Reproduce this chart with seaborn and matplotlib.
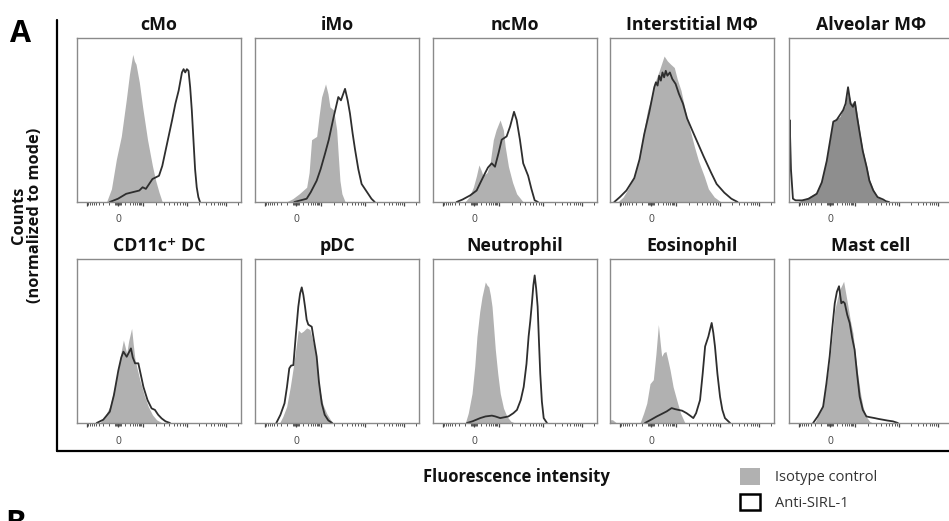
import numpy as np
import pandas as pd
import matplotlib
matplotlib.use("Agg")
import matplotlib.pyplot as plt
import seaborn as sns
from matplotlib.patches import Patch
from matplotlib.lines import Line2D

# ---------------- data (x: position across panel 0-100, y: % of panel height) ----
titles = ["cMo", "iMo", "ncMo", "Interstitial MΦ", "Alveolar MΦ",
          "CD11c⁺ DC", "pDC", "Neutrophil", "Eosinophil", "Mast cell"]

cmo_iso = [(18,0),(21,8),(24,26),(27,40),(30,62),(32,78),(34,90),(35,86),(36,84),(38,73),
           (40,58),(43,38),(46,22),(48,13),(50,6),(52,0)]
cmo_anti = [(20,0),(25,2),(30,5),(34,6),(38,7),(40,9),(42,8),(44,11),(46,14),(48,15),(50,16),
            (52,22),(55,36),(58,50),(60,60),(62,68),(64,79),(65,81),(66,79),(67,81),(68,80),
            (69,70),(70,56),(71,38),(72,20),(73,9),(74,3),(75,0)]

imo_iso = [(19,0),(23,2),(27,5),(31.5,9),(33,18),(34.5,38),(37.6,40),(39,52),(40.6,64),(43,72),
           (44.5,66),(45.7,58),(48,56),(49.8,44),(50.8,28),(51.8,13),(53,5),(55,0)]
imo_anti = [(24,0),(31.5,2),(34,6),(37.6,13),(40,20),(42.7,29.5),(45,38),(46.7,46),(48,52),
            (50.8,64),(52.4,62),(54.9,69),(56.5,62),(57.9,54),(59.5,42),(61,32),(63,20),(65,11),
            (69,5),(71,2),(73,0)]

ncmo_iso = [(19.5,0),(22,3),(24.6,9),(26.5,16),(28,22.6),(29.5,19),(30.5,16),(33,18),(34.8,23.6),
            (36.8,38),(38.5,44),(40.9,50),(42.9,44),(44,34),(46,21.6),(48.5,12),(51,5),(55,0)]
ncmo_anti = [(14.4,0),(18,1.5),(22.6,4),(26.6,7),(29,12),(31.7,17.5),(33.5,21),(35.8,23.6),
             (37.8,21.5),(40,30),(41.9,38),(44.9,40),(47,46),(49.4,55),(51,50),(53,38),(55,23.6),
             (58,16),(60,8),(62,1),(64,0)]

imac_iso = [(4.7,0),(8,3),(11,8),(14.8,15.6),(18,28),(20,40),(22.9,56),(25,63),(27,72),(30,80),
            (33,89),(35,86),(37,84),(39.2,82),(41,75),(43.3,68),(45,60),(47.3,50),(51.4,34),
            (54,25),(57.5,15.6),(60,8),(63.6,3),(67.7,0)]
imac_anti = [(2.6,0),(6,3),(10,7),(14.8,14.6),(18,26),(20.9,41.5),(24,55),(27,70),(28,73),(29,71),
             (30,77),(31,74),(32,79),(33,76),(34,80),(35,77),(36.5,79),(38,75),(40,72),(42,66),
             (44.5,60),(47,51),(50,44),(53.5,36),(57,28),(61.6,18),(65,11),(69.7,5.7),(74,2),
             (77.8,0)]

amac_iso = [(5,0),(10,2),(16.9,6),(20,13),(23,26),(25,38),(27,50),(29,51),(31,52),(33,57),(34,58),
            (36,68),(38,60),(40.2,62),(41.5,54),(43.3,42),(45,32),(47.4,22),(49,14),(51.4,7.7),
            (54,3),(57.5,1),(59,0)]
amac_anti = [(0,0),(0.4,50),(1.2,20),(2.4,2),(4,1),(8,1),(12,2),(16.9,5),(20,12),(23,25),(25,37),
             (27,49),(29,50),(31,53),(33,56),(34.5,60),(36,70),(37.5,60),(39,58),(40.2,61),
             (41.5,52),(43.3,41),(45,31),(47.4,21),(49,13),(51.4,7),(54,3),(57.5,1.5),(59,0.5),
             (61,0)]

dc_iso = [(14,0),(17,4),(20,10),(22.5,20),(25.2,32),(27,44),(28.3,50.6),(30.3,42.5),(31.5,50),
          (33.3,57.7),(34.3,48),(35.4,38.4),(38.4,26),(41,17),(43.5,10),(46,5),(48.5,2),(52,0)]
dc_anti = [(12,0),(16,2),(20,6.9),(22.5,17),(25.2,32),(27,40),(28.3,43.5),(30.3,40.4),(32.9,45.5),
           (34,40),(35.4,36.4),(37.4,36.4),(39,29),(40.5,22),(43,14),(45.5,8.9),(47.5,8),(49.5,5),
           (51.6,2.8),(54,1),(56.7,0)]

pdc_iso = [(15,0),(17,4),(19.3,10),(21.5,22),(23.4,34.3),(25,46),(26.4,56.7),(28,55),(29.5,56),
           (31.5,58),(33.5,57),(35,51),(36.6,44.5),(38,32),(39.6,20),(41.5,11),(43.7,5.9),(46,2),
           (47.8,0)]
pdc_anti = [(13,0),(15.5,5),(18,12),(19.5,22),(20.9,33.3),(22,35),(23.4,35.3),(25,55),(26.4,70.9),
            (27.5,79),(28.5,82.7),(29.5,78),(30.5,70.9),(31.5,63),(32.5,60),(34.6,58.7),(36,50),
            (37.6,40.5),(39,25),(40.7,12),(42.5,5),(44.7,1.6),(47,0)]

neu_iso = [(19.7,0),(21.5,6),(23.8,18),(25.5,35),(26.8,52.8),(28.5,68),(29.9,77),(31.9,86),(33,84),
           (34,83),(35,78),(36,71),(37,58),(38,44.7),(39.5,30),(41,18),(43,9),(45.1,4),(47.5,1),
           (50,0)]
neu_anti = [(20.7,0),(24,1),(28.8,3),(32,4),(35.9,4.5),(38,4),(41,3),(43.5,3.5),(46,4),(49,6),
            (51.2,8),(53.5,14),(55.3,22),(57,36),(58.3,52.8),(59.3,62),(60.3,73),(61.2,84),(62,90),
            (62.9,82),(63.8,71),(64.6,50),(65.4,30),(66.4,13),(67.5,3),(69.5,0)]

eos_iso = [(0,2),(1.5,2),(4,0),(18.3,0),(20.5,6),(22.4,12),(24.4,24),(26.4,26.4),(28,42),(29.5,60),
           (30.5,50),(31.5,40.6),(32.8,43),(34.1,43.6),(35.4,38),(36.6,32.5),(38.5,22),(40.7,14),
           (43,6),(45.7,0)]
eos_anti = [(21.3,0),(25,2),(28.5,4),(31.5,5.5),(34.6,7.1),(37.6,9.1),(39.5,8.5),(41.7,8),(44,7.5),
            (46.7,6),(48.8,4.5),(50.8,3),(52.5,6),(54.9,14),(56.5,30),(58,46.7),(60,52.8),(61,57),
            (62,61),(63,55),(64,46.7),(65.5,30),(67.1,16),(68.5,8),(70.1,3),(73.2,0)]

mast_iso = [(15.7,0),(18,5),(20.8,12),(22.8,24),(24.8,38.6),(26.4,54),(27.9,69),(29.5,76),
            (30.9,81.4),(32.2,84),(33.3,86.4),(34.6,79),(36,71),(37.5,62),(39,54.8),(40.5,41),
            (42.1,28.5),(43.6,18),(45.1,10),(47,4),(49.2,1),(51,0)]
mast_anti = [(14.7,0),(17.5,4),(20.8,10),(22.8,24),(24.8,40.6),(26.4,58),(27.9,73),(29.2,80),
             (30.5,83.4),(31.2,78),(31.9,73),(33,74),(34,73),(35.5,66),(37,61),(38.5,52),(40,44.7),
             (41.5,30),(43.1,16),(45,8),(47.2,4),(49.5,3.5),(52.2,3),(54.5,2.5),(57.3,2),(60,1.5),
             (63.4,1),(66.4,0)]

iso_curves = [cmo_iso, imo_iso, ncmo_iso, imac_iso, amac_iso,
              dc_iso, pdc_iso, neu_iso, eos_iso, mast_iso]
anti_curves = [cmo_anti, imo_anti, ncmo_anti, imac_anti, amac_anti,
               dc_anti, pdc_anti, neu_anti, eos_anti, mast_anti]

series_names = ["Isotype control", "Anti-SIRL-1"]

# ---------------- tidy table ----------------
rows = []
for t, iso, anti in zip(titles, iso_curves, anti_curves):
    for s, curve in zip(series_names, (iso, anti)):
        for x, y in curve:
            rows.append((t, s, x, y))
df = pd.DataFrame(rows, columns=["panel", "series", "x", "y"])

# ---------------- style ----------------
sns.set_theme(style="white")
plt.rcParams["font.family"] = ["Open Sans", "DejaVu Sans"]

W, H = 949, 521
fig = plt.figure(figsize=(W / 100, H / 100), dpi=100)

col_left = [77, 255, 433, 610, 789]
row_top = [38, 259]
size = 164

iso_color = "#b1b1b1"
line_color = "#2e2e2e"

# tick positions on the (biexponential-looking) fluorescence axis
major_ticks = [6, 25, 40, 67, 91]
minor_ticks = []
for a, b in [(40, 67), (67, 91), (91, 115)]:
    minor_ticks += [a + (b - a) * np.log10(k) for k in range(2, 10)]
minor_ticks += [25 + 15 * np.log10(k) for k in range(2, 10)]
minor_ticks += [25 - 19 * np.log10(k) for k in range(2, 10)]
minor_ticks += [23.2, 23.8, 24.4, 25.6, 26.2, 26.8]
minor_ticks = [m for m in minor_ticks if m < 100]

for i, t in enumerate(titles):
    r, c = divmod(i, 5)
    left = col_left[c]
    top = row_top[r]
    ax = fig.add_axes([left / W, 1 - (top + size) / H, size / W, size / H])
    sub = df[df.panel == t]
    iso = sub[sub.series == "Isotype control"]
    anti = sub[sub.series == "Anti-SIRL-1"]
    fc = "#8e8e8e" if t == "Alveolar MΦ" else iso_color
    ax.fill_between(iso.x, iso.y, 0, color=fc, lw=0, zorder=1)
    sns.lineplot(data=anti, x="x", y="y", ax=ax, color=line_color, lw=1.3,
                 estimator=None, sort=False, zorder=2)
    ax.set_xlim(0, 100)
    ax.set_ylim(0, 100)
    ax.set_xlabel("")
    ax.set_ylabel("")
    ax.set_yticks([])
    ax.set_xticks(major_ticks)
    ax.set_xticklabels(["", "0", "", "", ""])
    ax.set_xticks(minor_ticks, minor=True)
    ax.tick_params(axis="x", which="major", direction="out", length=3, width=0.9,
                   color="#444444", labelsize=7.5, labelcolor="#444444", pad=6, bottom=True)
    ax.tick_params(axis="x", which="minor", direction="out", length=1.8, width=0.7,
                   color="#555555", bottom=True)
    for sp in ax.spines.values():
        sp.set_color("#8a8a8a")
        sp.set_linewidth(1.0)
    ax.set_title(t, fontsize=12.8, fontweight="bold", pad=6, color="#111111")

# L-shaped outer axis
fig.add_artist(Line2D([57 / W, 57 / W], [1 - 20 / H, 1 - 451 / H], color="black", lw=1.6))
fig.add_artist(Line2D([57 / W, 1.0], [1 - 451 / H, 1 - 451 / H], color="black", lw=1.6))

fig.text(20 / W, 1 - 34 / H, "A", fontsize=22, fontweight="bold", ha="center", va="center",
         color="black")
fig.text(16 / W, 1 - 524 / H, "B", fontsize=22, fontweight="bold", ha="center", va="center",
         color="black")

fig.text(27 / W, 1 - 215 / H, "Counts\n(normalized to mode)", rotation=90, ha="center",
         va="center", multialignment="center", fontsize=11.8, fontweight="bold",
         color="#111111", linespacing=1.05)

fig.text(516 / W, 1 - 477 / H, "Fluorescence intensity", ha="center", va="center",
         fontsize=12, fontweight="bold", color="#111111")

handles = [Patch(facecolor=iso_color, edgecolor="none"),
           Patch(facecolor="white", edgecolor="black", linewidth=1.8)]
leg = fig.legend(handles, series_names, loc="upper left",
                 bbox_to_anchor=(740 / W, 1 - 468 / H), frameon=False, fontsize=10.5,
                 handlelength=1.37, handleheight=1.37, handletextpad=1.0,
                 labelspacing=0.6, borderpad=0, borderaxespad=0)
for txt in leg.get_texts():
    txt.set_color("#333333")

fig.savefig("out.png", dpi=100)
